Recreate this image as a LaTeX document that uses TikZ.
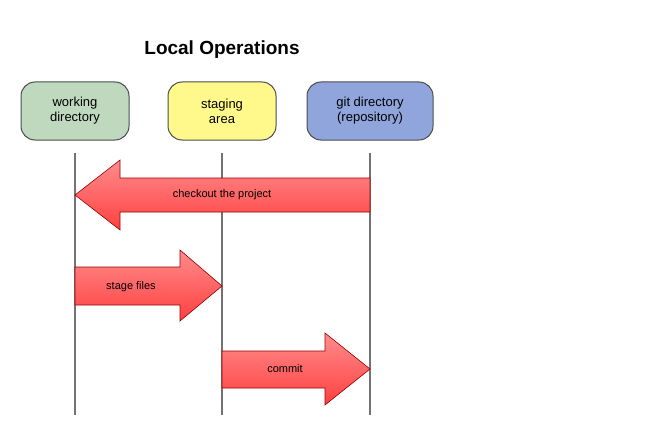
\documentclass[tikz,border=0pt]{standalone}
\usepackage{fontspec}
\setmainfont{Liberation Sans}
\usetikzlibrary{shapes.arrows}
\begin{document}
\begin{tikzpicture}[x=1pt,y=-1pt,
  box/.style={draw=black!70,line width=1pt,rounded corners=14pt,minimum width=108pt,minimum height=58pt,align=center,font=\fontsize{13}{15}\selectfont},
  life/.style={draw=black!55,line width=1.5pt},
  arr/.style={draw=red!60!black,line width=0.6pt,top color=red!45!white,bottom color=red!75!white}]
\useasboundingbox (0,0) rectangle (668,441);
\node[font=\bfseries\fontsize{19}{22}\selectfont] (title) at (222,50) {Local Operations};
\node[box,fill=green!25!gray!40] (wd) at (75,111) {working\\directory};
\node[box,fill=yellow!45] (sa) at (222,111) {staging\\area};
\node[box,fill=cyan!40!blue!45,minimum width=126pt] (gd) at (370,111) {git directory\\(repository)};
\coordinate (wdb) at (75,415);
\coordinate (sab) at (222,415);
\coordinate (gdb) at (370,415);
\draw[life] (wd.south)++(0,12) -- (wdb);
\draw[life] (sa.south)++(0,12) -- (sab);
\draw[life] (gd.south)++(0,12) -- (gdb);
% checkout
\draw[arr] (370,178) -- (120,178) -- (120,160) -- (75,195) -- (120,230) -- (120,212) -- (370,212) -- cycle;
\node[font=\fontsize{11}{13}\selectfont] (co) at (222,195) {checkout the project};
% stage
\draw[arr] (75,267) -- (180,267) -- (180,250) -- (222,286) -- (180,321) -- (180,305) -- (75,305) -- cycle;
\node[font=\fontsize{11}{13}\selectfont] (sf) at (131,287) {stage files};
% commit
\draw[arr] (222,351) -- (325,351) -- (325,333) -- (370,369) -- (325,405) -- (325,388) -- (222,388) -- cycle;
\node[font=\fontsize{11}{13}\selectfont] (cm) at (285,369) {commit};
\end{tikzpicture}
\end{document}
